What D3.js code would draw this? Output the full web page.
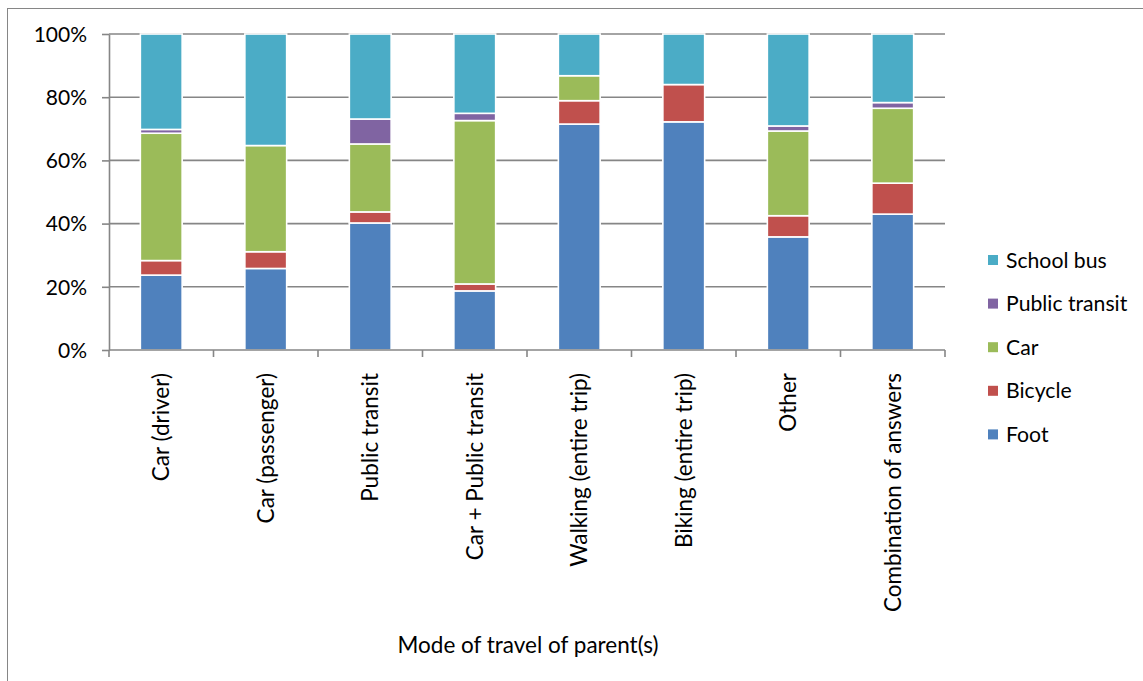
<!DOCTYPE html>
<html>
<head>
<meta charset="utf-8">
<script src="https://cdn.jsdelivr.net/npm/d3@7"></script>
<style>
  html, body { margin: 0; padding: 0; background: #fff; }
  svg { display: block; }
  text { font-family: Lato, "Open Sans", sans-serif; fill: #000; }
</style>
</head>
<body>
<svg id="chart" width="1143" height="681"></svg>
<script>
// Parent's mode of travel (categories) and the child's mode shares, in percent
const categories = [
  "Car (driver)", "Car (passenger)", "Public transit", "Car + Public transit",
  "Walking (entire trip)", "Biking (entire trip)", "Other", "Combination of answers"
];
const seriesNames = ["Foot", "Bicycle", "Car", "Public transit", "School bus"];
const foot          = [23.7, 25.8, 40.2, 18.7, 71.5, 72.2, 35.8, 43.0];
const bicycle       = [ 4.6,  5.3,  3.5,  2.2,  7.4, 11.8,  6.7,  9.8];
const car           = [40.3, 33.6, 21.5, 51.7,  7.9,  0.0, 26.8, 23.7];
const publicTransit = [ 1.2,  0.0,  7.9,  2.3,  0.0,  0.0,  1.6,  1.8];
const schoolBus     = [30.2, 35.3, 26.9, 25.1, 13.2, 16.0, 29.1, 21.7];
const yTicks = [0, 20, 40, 60, 80, 100];
const colors = ["#4F81BD", "#C0504D", "#9BBB59", "#8064A2", "#4BACC6"];
const xTitle = "Mode of travel of parent(s)";

const seriesValues = [foot, bicycle, car, publicTransit, schoolBus];
const rows = categories.map((c, i) => {
  const r = { category: c };
  seriesNames.forEach((s, k) => { r[s] = seriesValues[k][i]; });
  return r;
});

const svg = d3.select("#chart");
const plotLeft = 109, plotRight = 945, plotTop = 34, plotBottom = 350;

const x = d3.scaleBand().domain(categories).range([plotLeft, plotRight])
  .paddingInner(0.6).paddingOuter(0.3);
const y = d3.scaleLinear().domain([0, 100]).range([plotBottom, plotTop]);
const color = d3.scaleOrdinal().domain(seriesNames).range(colors);

// outer chart border
svg.append("rect")
  .attr("x", 7.5).attr("y", 8.5).attr("width", 1150).attr("height", 690)
  .attr("fill", "none").attr("stroke", "#868686").attr("stroke-width", 1);

// horizontal gridlines
svg.append("g").selectAll("line").data(yTicks.filter(d => d > 0)).join("line")
  .attr("x1", plotLeft).attr("x2", plotRight)
  .attr("y1", d => y(d)).attr("y2", d => y(d))
  .attr("stroke", "#868686").attr("stroke-width", 1.6);

// stacked bars
const stack = d3.stack().keys(seriesNames);
const layers = stack(rows);
svg.append("g").selectAll("g").data(layers).join("g")
  .attr("fill", d => color(d.key))
  .selectAll("rect").data(d => d.filter(p => p[1] - p[0] > 0)).join("rect")
  .attr("x", d => x(d.data.category))
  .attr("width", x.bandwidth())
  .attr("y", d => y(d[1]))
  .attr("height", d => y(d[0]) - y(d[1]))
  .attr("stroke", "#fff").attr("stroke-width", 1.6);

// y axis
const yAxis = svg.append("g").attr("transform", `translate(${plotLeft},0)`)
  .call(d3.axisLeft(y).tickValues(yTicks).tickFormat(d => d + "%")
    .tickSize(7).tickSizeOuter(0).tickPadding(15));
yAxis.select(".domain").attr("stroke", "#868686").attr("stroke-width", 1.6);
yAxis.selectAll(".tick line").attr("stroke", "#868686").attr("stroke-width", 1.6);
yAxis.selectAll(".tick text").attr("font-size", 21).attr("font-family", "Lato, sans-serif")
  .attr("fill", "#000").attr("dy", "0.35em");

// x axis baseline and boundary ticks
const gap = (x.step() - x.bandwidth()) / 2;
const bounds = categories.map(c => x(c) - gap).concat([x(categories[categories.length - 1]) + x.bandwidth() + gap]);
svg.append("line").attr("x1", plotLeft).attr("x2", plotRight).attr("y1", plotBottom).attr("y2", plotBottom)
  .attr("stroke", "#868686").attr("stroke-width", 1.6);
svg.append("g").selectAll("line").data(bounds).join("line")
  .attr("x1", d => d).attr("x2", d => d).attr("y1", plotBottom).attr("y2", plotBottom + 7)
  .attr("stroke", "#868686").attr("stroke-width", 1.6);

// rotated category labels
svg.append("g").selectAll("text").data(categories).join("text")
  .attr("transform", c => `translate(${x(c) + x.bandwidth() / 2 + 8},373) rotate(-90)`)
  .attr("text-anchor", "end")
  .attr("font-size", 22.5)
  .text(c => c);

// axis title
svg.append("text").attr("x", 528).attr("y", 653).attr("text-anchor", "middle")
  .attr("font-size", 22.5).text(xTitle);

// legend, top entry is the last stacked series
const legendOrder = seriesNames.slice().reverse();
const legend = svg.append("g").selectAll("g").data(legendOrder).join("g")
  .attr("transform", (d, i) => `translate(988,${260 + i * 43.6})`);
legend.append("rect").attr("x", 0).attr("y", -5).attr("width", 10).attr("height", 10)
  .attr("fill", d => color(d));
legend.append("text").attr("x", 18).attr("y", 0).attr("dy", "0.36em")
  .attr("font-size", 21.2).text(d => d);
</script>
</body>
</html>
